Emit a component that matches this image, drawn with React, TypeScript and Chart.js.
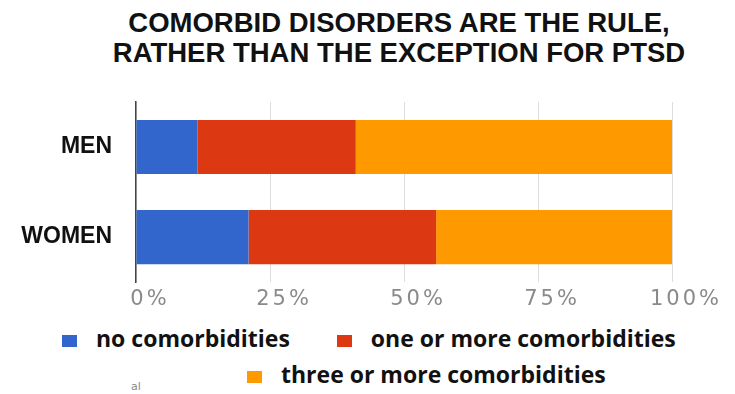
import React, { useEffect, useRef } from "react";
import { Chart, registerables } from "chart.js";

Chart.register(...registerables);

const categories = ["MEN", "WOMEN"];
const seriesNames = ["no comorbidities", "one or more comorbidities", "three or more comorbidities"];
const noComorbidities = [11.5, 21];
const oneOrMore = [29.5, 35];
const threeOrMore = [59, 44];
const seriesColors = ["#3366CC", "#DC3912", "#FF9900"];
const xTickValues = [0, 25, 50, 75, 100];
const titleLines = ["COMORBID DISORDERS ARE THE RULE,", "RATHER THAN THE EXCEPTION FOR PTSD"];

const tickSpacingPlugin = {
  id: "tickSpacing",
  afterDatasetsDraw(chart: any) {
    chart.ctx.letterSpacing = "3px";
  },
  afterDraw(chart: any) {
    chart.ctx.letterSpacing = "0px";
  },
};

export default function App() {
  const canvasRef = useRef<HTMLCanvasElement | null>(null);

  useEffect(() => {
    const canvas = canvasRef.current;
    if (!canvas) return;
    const chart = new Chart(canvas, {
      type: "bar",
      data: {
        labels: categories,
        datasets: [
          { label: seriesNames[0], data: noComorbidities, backgroundColor: seriesColors[0] },
          { label: seriesNames[1], data: oneOrMore, backgroundColor: seriesColors[1] },
          { label: seriesNames[2], data: threeOrMore, backgroundColor: seriesColors[2] },
        ],
      },
      options: {
        indexAxis: "y",
        animation: false,
        responsive: false,
        maintainAspectRatio: false,
        layout: { padding: { top: 102, right: 63, left: 0, bottom: 0 } },
        datasets: { bar: { barPercentage: 0.6, categoryPercentage: 1 } },
        plugins: {
          legend: { display: false },
          title: { display: false },
          tooltip: { enabled: false },
        },
        scales: {
          x: {
            stacked: true,
            min: 0,
            max: 100,
            afterBuildTicks(scale: any) {
              scale.ticks = xTickValues.map((v) => ({ value: v }));
            },
            afterFit(scale: any) {
              scale.height = 37;
            },
            ticks: {
              callback: (v: any) => v + "%",
              color: "#8a8a8a",
              font: { family: "DejaVu Sans", size: 21, weight: "normal" },
              labelOffset: 14,
              padding: 5,
              maxRotation: 0,
              autoSkip: false,
              z: 1,
            },
            grid: { color: "#dddddd", lineWidth: 1, drawTicks: false },
            border: { display: false },
          },
          y: {
            stacked: true,
            afterFit(scale: any) {
              scale.width = 136;
            },
            ticks: {
              color: "#111111",
              font: { family: "Liberation Sans", size: 23, weight: "bold" },
              padding: 24,
            },
            grid: { display: false, drawTicks: false },
            border: { display: true, color: "#444444", width: 1.5 },
          },
        },
      },
      plugins: [tickSpacingPlugin],
    } as any);
    return () => chart.destroy();
  }, []);

  const legendItem = (i: number) => (
    <div style={{ display: "flex", alignItems: "baseline" }}>
      <span
        style={{
          display: "inline-block",
          width: 15,
          height: 12,
          background: seriesColors[i],
          marginRight: 19,
        }}
      />
      <span>{seriesNames[i]}</span>
    </div>
  );

  return (
    <div
      style={{
        position: "absolute",
        left: 0,
        top: 0,
        width: 735,
        height: 394,
        overflow: "hidden",
        background: "#ffffff",
      }}
    >
      <div
        style={{
          position: "absolute",
          left: 0,
          top: 8,
          width: 798,
          textAlign: "center",
          fontFamily: "'Liberation Sans', Arial, sans-serif",
          fontWeight: "bold",
          fontSize: 27.5,
          lineHeight: "30px",
          color: "#111111",
        }}
      >
        {titleLines.map((l) => (
          <div key={l}>{l}</div>
        ))}
      </div>
      <canvas
        ref={canvasRef}
        width={735}
        height={320}
        style={{ position: "absolute", left: 0, top: 0, width: 735, height: 320 }}
      />
      <div
        style={{
          position: "absolute",
          left: 0,
          top: 0,
          width: 735,
          fontFamily: "'Open Sans', sans-serif",
          fontWeight: 700,
          fontSize: 23,
          color: "#111111",
        }}
      >
        <div style={{ position: "absolute", left: 62, top: 322, display: "flex", whiteSpace: "nowrap" }}>
          {legendItem(0)}
          <div style={{ width: 47 }} />
          {legendItem(1)}
        </div>
        <div style={{ position: "absolute", left: 247, top: 358, display: "flex", whiteSpace: "nowrap" }}>
          {legendItem(2)}
        </div>
      </div>
      <div
        style={{
          position: "absolute",
          left: 131,
          top: 380,
          fontFamily: "'DejaVu Sans', sans-serif",
          fontSize: 11,
          color: "#888888",
        }}
      >
        al
      </div>
    </div>
  );
}
